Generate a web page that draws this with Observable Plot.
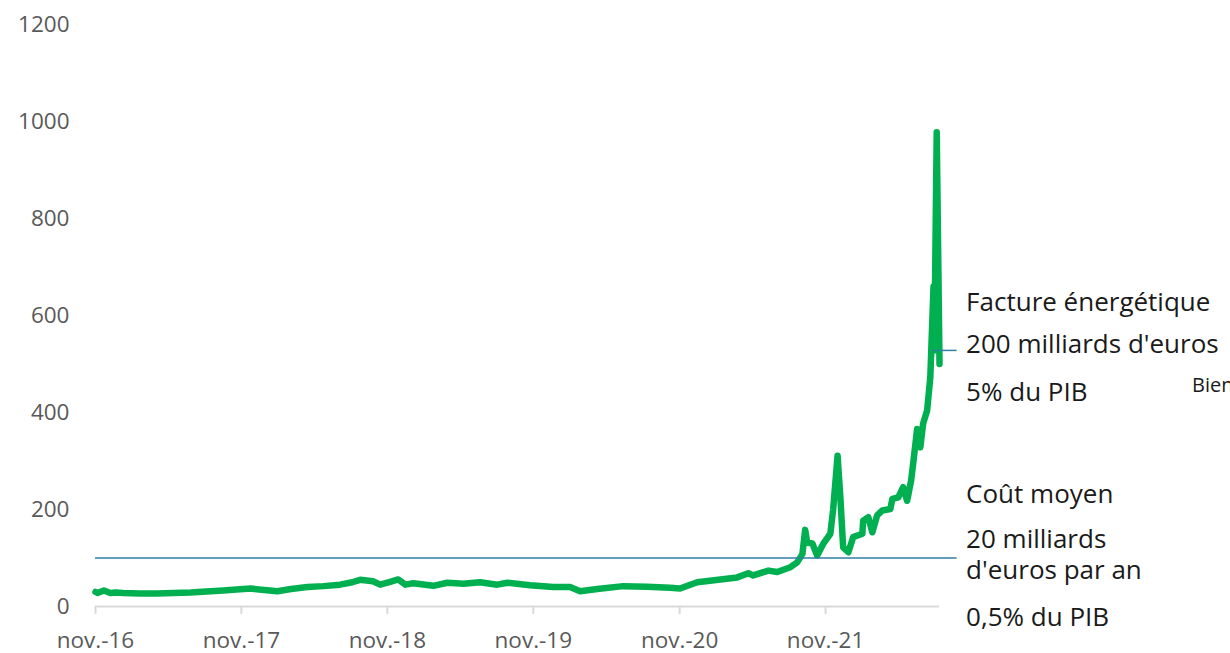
<!DOCTYPE html>
<html>
<head>
<meta charset="utf-8">
<script src="https://cdn.jsdelivr.net/npm/d3@7"></script>
<script src="https://cdn.jsdelivr.net/npm/@observablehq/plot@0.6"></script>
<style>
  html, body { margin: 0; padding: 0; background: #fff; overflow: hidden; }
  #chart svg { display: block; font-family: "Open Sans", sans-serif; }
</style>
</head>
<body>
<div id="chart"></div>
<script>
// Prix de l'électricité (€/MWh)
const dates = [
  "2016-11-01","2016-11-06","2016-11-22","2016-12-08","2016-12-22","2017-01-10","2017-02-20","2017-04-05",
  "2017-05-15","2017-06-27","2017-08-05","2017-09-17","2017-10-20","2017-11-24","2017-12-28","2018-01-30",
  "2018-03-05","2018-04-15","2018-05-25","2018-07-06","2018-08-05","2018-08-25","2018-09-26","2018-10-14",
  "2018-11-08","2018-11-28","2018-12-16","2019-01-05","2019-02-24","2019-03-31","2019-05-10","2019-06-21",
  "2019-08-03","2019-08-28","2019-10-24","2019-12-21","2020-02-01","2020-02-26","2020-04-09","2020-06-13",
  "2020-08-12","2020-10-08","2020-11-02","2020-12-15","2021-02-11","2021-03-25","2021-04-22","2021-05-04",
  "2021-06-11","2021-07-03","2021-08-05","2021-08-22","2021-09-04","2021-09-11","2021-09-16","2021-09-29",
  "2021-10-11","2021-10-26","2021-11-13","2021-11-20","2021-12-01","2021-12-08","2021-12-15","2021-12-28",
  "2022-01-09","2022-02-01","2022-02-03","2022-02-16","2022-02-26","2022-03-10","2022-03-23","2022-04-12",
  "2022-04-17","2022-05-02","2022-05-14","2022-05-24","2022-06-03","2022-06-08","2022-06-18","2022-06-26",
  "2022-07-03","2022-07-13","2022-07-21","2022-07-29","2022-07-31","2022-08-06","2022-08-13"
];
const prices = [
  30, 28, 33, 28, 29, 28, 27, 27,
  28, 29, 31, 33, 35, 37, 34, 31.5,
  36, 40, 42, 45, 50, 55, 52, 45,
  51, 55.7, 45, 48, 42.6, 49, 47, 50,
  45, 49, 44, 40, 40, 31.5, 36, 42,
  40.5, 38.5, 37, 50, 55.7, 60, 68.7, 64,
  74, 71, 81, 91, 108, 158, 132, 130,
  105, 129, 150, 200, 311, 225, 122, 112,
  143, 150, 177, 184, 153, 188, 198, 201,
  222, 225, 246, 218, 260, 294, 366, 328,
  377, 404, 473, 660, 528, 978, 500
];

const yTicks = [0, 200, 400, 600, 800, 1000, 1200];
const xTickDates = ["2016-11-01","2017-11-01","2018-11-01","2019-11-01","2020-11-01","2021-11-01"];
const xTickLabels = ["nov.-16","nov.-17","nov.-18","nov.-19","nov.-20","nov.-21"];

// Références annotées
const avgCostValue = 100;
const billValue = 528;
const avgCostLabels = ["Coût moyen", "20 milliards\nd'euros par an", "0,5% du PIB"];
const billLabels = ["Facture énergétique", "200 milliards d'euros", "5% du PIB"];
const sideNote = "Bien";

const series = dates.map((d, i) => ({date: new Date(d), value: prices[i]}));
const startDate = new Date(dates[0]);
const lastDate = new Date(dates[dates.length - 1]);
const refEnd = new Date("2022-09-26");
const billRuleStart = new Date("2022-07-28");
const tickDates = xTickDates.map(d => new Date(d));
const labelOf = new Map(tickDates.map((d, i) => [+d, xTickLabels[i]]));

const avgOffsets = [-55, 21, 68];
const billOffsets = [-39, 3, 51];

const textMarks = [];
avgCostLabels.forEach((t, i) => textMarks.push(
  Plot.text([t], {x: () => refEnd, y: () => avgCostValue, text: d => d, dx: 9, dy: avgOffsets[i],
    textAnchor: "start", lineAnchor: "bottom", lineHeight: 1.19, fontSize: 26, fill: "#1a1a1a"})));
billLabels.forEach((t, i) => textMarks.push(
  Plot.text([t], {x: () => refEnd, y: () => billValue, text: d => d, dx: 9, dy: billOffsets[i],
    textAnchor: "start", lineAnchor: "bottom", fontSize: 26, fill: "#1a1a1a"})));
textMarks.push(Plot.text([sideNote], {x: () => refEnd, y: () => billValue, text: d => d, dx: 235, dy: 42,
  textAnchor: "start", lineAnchor: "bottom", fontSize: 20, fill: "#1a1a1a"}));

const chart = Plot.plot({
  width: 1230,
  height: 653,
  marginLeft: 95,
  marginRight: 259,
  marginTop: 24,
  marginBottom: 47,
  style: {fontFamily: "Open Sans, sans-serif", overflow: "visible"},
  x: {type: "utc", domain: [startDate, new Date("2022-11-01")]},
  y: {domain: [0, 1200]},
  marks: [
    Plot.axisY({ticks: yTicks, tickFormat: d => String(d), tickSize: 0, tickPadding: 26, fontSize: 22.5,
      fill: "#595959", label: null}),
    Plot.axisX({ticks: tickDates, tickFormat: d => labelOf.get(+d), tickSize: 8, tickPadding: 18,
      stroke: "#d9d9d9", strokeWidth: 2, fontSize: 22.5, fill: "#595959", label: null, lineAnchor: "top"}),
    Plot.ruleY([0], {x1: () => startDate, x2: () => lastDate, stroke: "#d9d9d9", strokeWidth: 2}),
    Plot.line(series, {x: "date", y: "value", stroke: "#00b050", strokeWidth: 6.5,
      strokeLinejoin: "round", strokeLinecap: "round"}),
    Plot.ruleY([avgCostValue], {x1: () => startDate, x2: () => refEnd, stroke: "#2f7fa3", strokeWidth: 1.5}),
    Plot.ruleY([billValue], {x1: () => billRuleStart, x2: () => refEnd, stroke: "#2f7fa3", strokeWidth: 1.5}),
    ...textMarks
  ]
});
document.getElementById("chart").appendChild(chart);
</script>
</body>
</html>
